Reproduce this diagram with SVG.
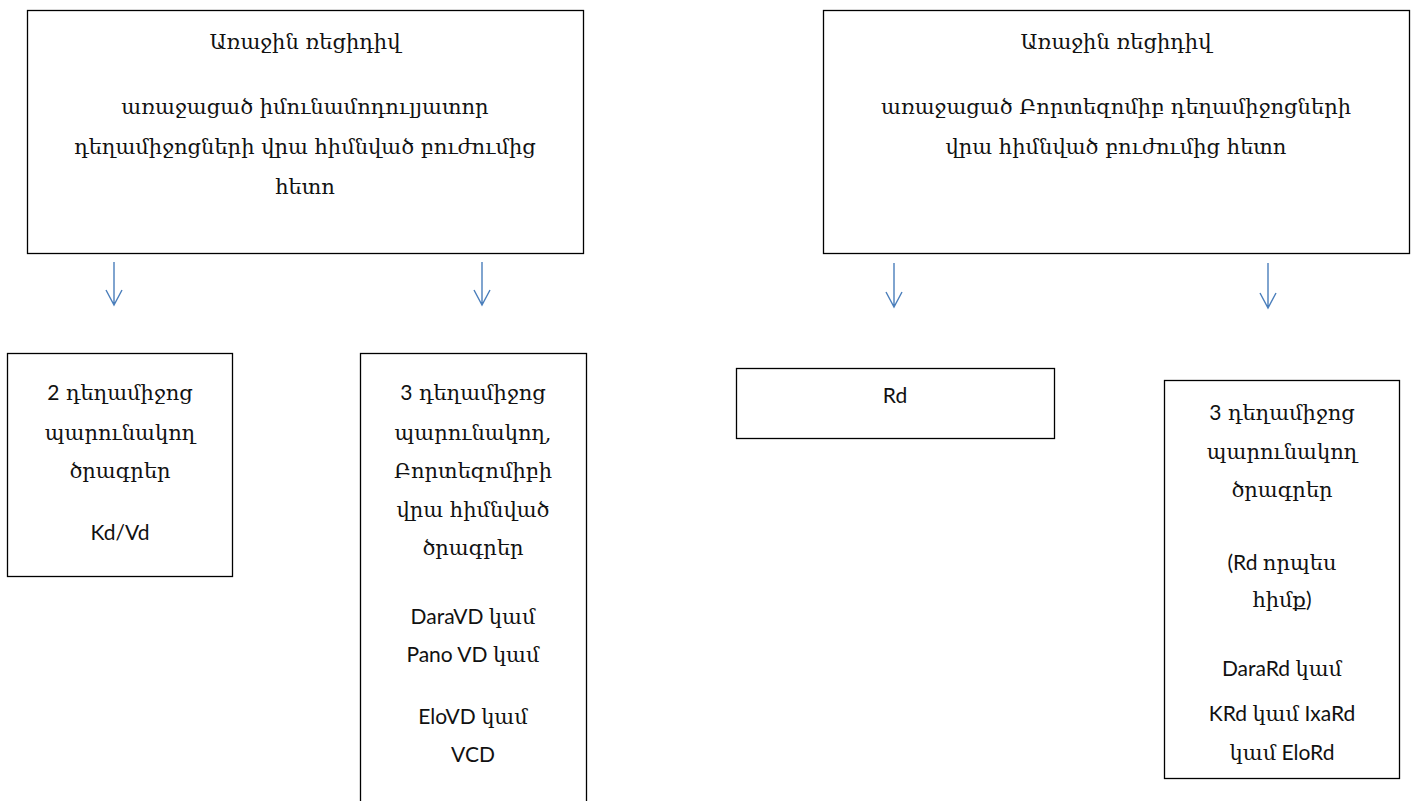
<svg xmlns="http://www.w3.org/2000/svg" width="1417" height="801" viewBox="0 0 1417 801">
<style>
.box{fill:#fff;stroke:#000;stroke-width:1.3}
.t{font-family:"DejaVu Serif",serif;font-size:21px;fill:#111;text-anchor:middle}
.l{font-family:Lato,"Liberation Sans",sans-serif;font-size:21px}
.arr{stroke:#4a7ebb;stroke-width:1.4;fill:none}
</style>
<rect width="1417" height="801" fill="#fff"/>
<g id="nodeA">
<rect class="box" x="27.5" y="10.5" width="556" height="243"/>
<text class="t" x="305" y="49">Առաջին ռեցիդիվ</text>
<text class="t" x="305" y="114">առաջացած իմունամոդուլյատոր</text>
<text class="t" x="305" y="154">դեղամիջոցների վրա հիմնված բուժումից</text>
<text class="t" x="305" y="194">հետո</text>
</g>
<g id="nodeB">
<rect class="box" x="823.5" y="10.5" width="586" height="243"/>
<text class="t" x="1116" y="49">Առաջին ռեցիդիվ</text>
<text class="t" x="1116" y="114">առաջացած Բորտեզոմիբ դեղամիջոցների</text>
<text class="t" x="1116" y="154">վրա հիմնված բուժումից հետո</text>
</g>
<g id="nodeC">
<rect class="box" x="7.5" y="353.5" width="225" height="223"/>
<text class="t" x="120" y="400"><tspan class="l">2</tspan> դեղամիջոց</text>
<text class="t" x="120" y="440">պարունակող</text>
<text class="t" x="120" y="478">ծրագրեր</text>
<text class="t l" x="120" y="540">Kd/Vd</text>
</g>
<g id="nodeD">
<rect class="box" x="360.5" y="353.5" width="226" height="460"/>
<text class="t" x="473" y="400"><tspan class="l">3</tspan> դեղամիջոց</text>
<text class="t" x="473" y="440">պարունակող,</text>
<text class="t" x="473" y="478">Բորտեզոմիբի</text>
<text class="t" x="473" y="517">վրա հիմնված</text>
<text class="t" x="473" y="555">ծրագրեր</text>
<text class="t" x="473" y="624"><tspan class="l">DaraVD </tspan>կամ</text>
<text class="t" x="473" y="662"><tspan class="l">Pano VD </tspan>կամ</text>
<text class="t" x="473" y="724"><tspan class="l">EloVD </tspan>կամ</text>
<text class="t l" x="473" y="762">VCD</text>
</g>
<g id="nodeE">
<rect class="box" x="736.5" y="368.5" width="318" height="70"/>
<text class="t l" x="895" y="403">Rd</text>
</g>
<g id="nodeF">
<rect class="box" x="1164.5" y="380.5" width="235" height="398"/>
<text class="t" x="1282" y="420"><tspan class="l">3</tspan> դեղամիջոց</text>
<text class="t" x="1282" y="459">պարունակող</text>
<text class="t" x="1282" y="497">ծրագրեր</text>
<text class="t" x="1282" y="570"><tspan class="l">(Rd </tspan>որպես</text>
<text class="t" x="1282" y="607">հիմք<tspan class="l">)</tspan></text>
<text class="t" x="1282" y="676"><tspan class="l">DaraRd </tspan>կամ</text>
<text class="t" x="1282" y="721"><tspan class="l">KRd </tspan>կամ<tspan class="l"> IxaRd</tspan></text>
<text class="t" x="1282" y="760">կամ<tspan class="l"> EloRd</tspan></text>
</g>
<g id="connectors">
<path class="arr" d="M114 262V305M106 290L114 305L122 290"/>
<path class="arr" d="M482 262V305M474 290L482 305L490 290"/>
<path class="arr" d="M894 263V307M886 292L894 307L902 292"/>
<path class="arr" d="M1268 263V308M1260 293L1268 308L1276 293"/>
</g>
</svg>
